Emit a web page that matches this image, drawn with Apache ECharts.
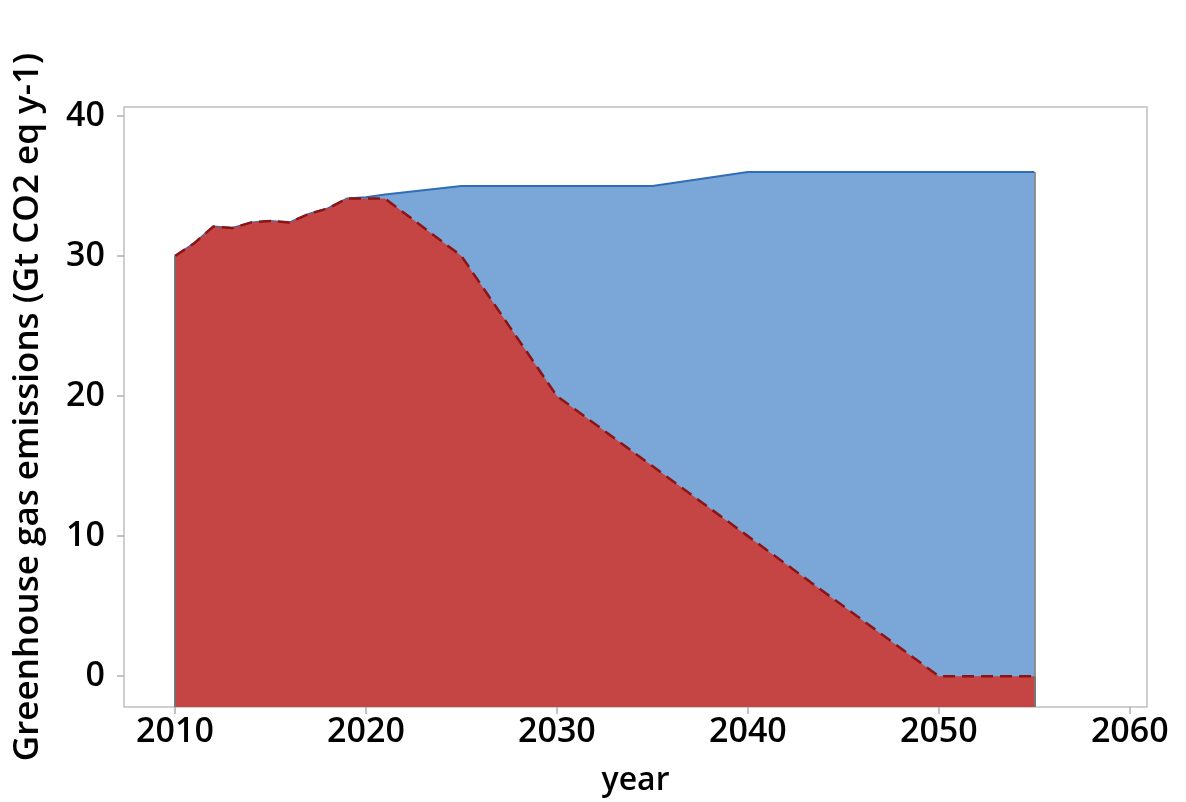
<!DOCTYPE html>
<html>
<head>
<meta charset="utf-8">
<script src="https://cdn.jsdelivr.net/npm/echarts@6/dist/echarts.min.js"></script>
<style>html,body{margin:0;padding:0;background:#fff}#c{width:1186px;height:802px}</style>
</head>
<body>
<div id="c"></div>
<script>
const years = [2010, 2011, 2012, 2013, 2014, 2015, 2016, 2017, 2018, 2019, 2020, 2021, 2025, 2030, 2035, 2040, 2050, 2055];
const baseline = [30.0, 30.9, 32.1, 32.0, 32.4, 32.5, 32.4, 33.0, 33.4, 34.1, 34.2, 34.4, 35.0, 35.0, 35.0, 36.0, 36.0, 36.0];
const pathway  = [30.0, 30.9, 32.1, 32.0, 32.4, 32.5, 32.4, 33.0, 33.4, 34.1, 34.1, 34.1, 30.0, 20.0, 15.0, 10.0, 0.0, 0.0];
const xTicks = [2010, 2020, 2030, 2040, 2050, 2060];
const yTicks = [0, 10, 20, 30, 40];

const X_MIN = 2007.33, X_MAX = 2060.9, Y_MIN = -2.2, Y_MAX = 40.64;
const pair = (xs, ys) => xs.map((x, i) => [x, ys[i]]);
const FONT = '"Open Sans", "Noto Sans", sans-serif';

function edges(vals, color) {
  const n = years.length - 1;
  return {
    silent: true, symbol: 'none', label: {show: false},
    lineStyle: {color: color, type: 'solid', width: 1.5},
    data: [
      [{coord: [years[0], Y_MIN]}, {coord: [years[0], vals[0]]}],
      [{coord: [years[n], Y_MIN]}, {coord: [years[n], vals[n]]}]
    ]
  };
}

const chart = echarts.init(document.getElementById('c'));
chart.setOption({
  animation: false,
  grid: {left: 124, right: 39, top: 107, bottom: 92, show: true, borderColor: '#c0c0c0', borderWidth: 1.5, backgroundColor: '#fff'},
  xAxis: {
    type: 'value', min: X_MIN, max: X_MAX,
    name: 'year', nameLocation: 'middle', nameGap: 58,
    nameTextStyle: {fontFamily: FONT, fontSize: 32, fontWeight: 600, color: '#000'},
    axisLine: {show: false, onZero: false},
    splitLine: {show: false},
    axisTick: {show: true, length: 7, lineStyle: {color: '#b0b0b0', width: 1.5}, customValues: xTicks},
    axisLabel: {customValues: xTicks, formatter: v => String(v), fontFamily: FONT, fontSize: 34, fontWeight: 600, color: '#000', margin: 8}
  },
  yAxis: {
    type: 'value', min: Y_MIN, max: Y_MAX,
    name: 'Greenhouse gas emissions (Gt CO2 eq y-1)', nameLocation: 'middle', nameGap: 78, nameRotate: 90,
    nameTextStyle: {fontFamily: FONT, fontSize: 35, fontWeight: 600, color: '#000'},
    axisLine: {show: false, onZero: false},
    splitLine: {show: false},
    axisTick: {show: true, length: 7, lineStyle: {color: '#b0b0b0', width: 1.5}, customValues: yTicks},
    axisLabel: {customValues: yTicks, formatter: v => String(v), fontFamily: FONT, fontSize: 34, fontWeight: 600, color: '#000', margin: 19}
  },
  series: [
    {
      type: 'line', data: pair(years, baseline), symbol: 'none',
      lineStyle: {color: '#2f6db5', width: 2},
      areaStyle: {color: '#7ba6d8', origin: 'start', opacity: 1},
      markLine: edges(baseline, '#707070'),
      z: 2
    },
    {
      type: 'line', data: pair(years, pathway), symbol: 'none',
      lineStyle: {color: '#8c1414', width: 2.5, type: [12, 7]},
      areaStyle: {color: '#c54545', origin: 'start', opacity: 1},
      markLine: edges(pathway, '#707070'),
      z: 3
    }
  ]
});
</script>
</body>
</html>
